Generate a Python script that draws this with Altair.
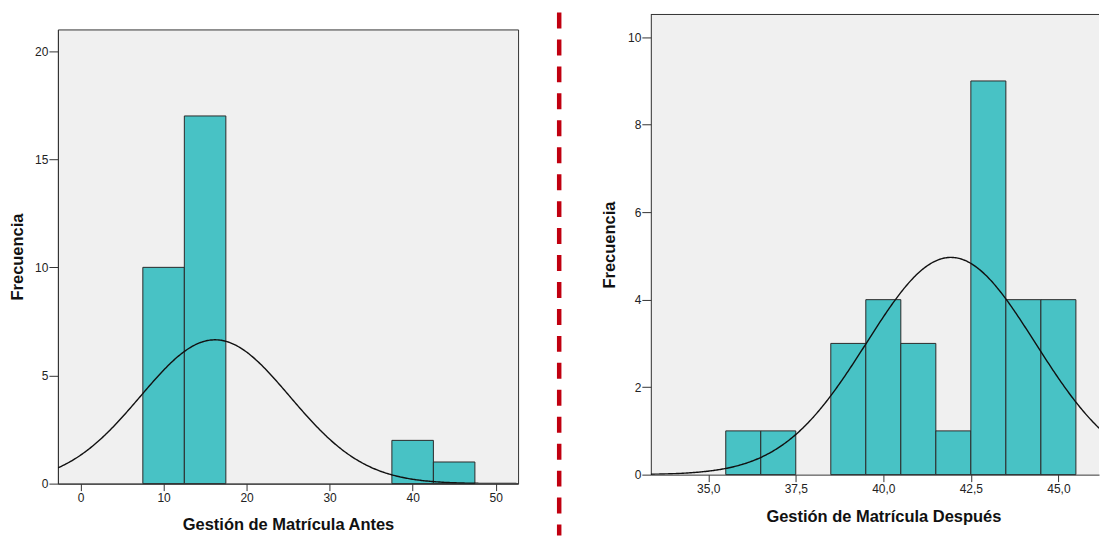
import altair as alt
import pandas as pd

# ---- Left histogram: Gestión de Matrícula Antes ----
antes_bin_start = [7.5, 12.5, 37.5, 42.5]
antes_bin_end = [12.5, 17.5, 42.5, 47.5]
antes_count = [10, 17, 2, 1]
antes_mean = 16.2
antes_sd = 9.0
antes_n = 30
antes_binwidth = 5
antes_xticks = [0, 10, 20, 30, 40, 50]
antes_yticks = [0, 5, 10, 15, 20]
antes_xdomain = [-2.73, 52.7]
antes_ydomain = [0, 21]

# ---- Right histogram: Gestión de Matrícula Después ----
despues_bin_start = [35.5, 36.5, 38.5, 39.5, 40.5, 41.5, 42.5, 43.5, 44.5]
despues_bin_end = [36.5, 37.5, 39.5, 40.5, 41.5, 42.5, 43.5, 44.5, 45.5]
despues_count = [1, 1, 3, 4, 3, 1, 9, 4, 4]
despues_mean = 41.93
despues_sd = 2.41
despues_n = 30
despues_binwidth = 1
despues_xticks = [35, 37.5, 40, 42.5, 45]
despues_yticks = [0, 2, 4, 6, 8, 10]
despues_xdomain = [33.36, 46.16]
despues_ydomain = [0, 10.52]

BAR_FILL = "#48C2C5"
BG = "#F0F0F0"
FRAME = "#333333"


def spacer(width, height):
    return alt.Chart(pd.DataFrame({"k": [0]})).mark_rule(
        color="white", strokeWidth=0.1, opacity=0).encode(
        x=alt.value(1), x2=alt.value(2), y=alt.value(height / 2)
    ).properties(width=width, height=height,
                 view=alt.ViewBackground(stroke=None, fill=None))


def histogram(starts, ends, counts, mean, sd, n, bw, xdom, ydom, xticks, yticks,
              xtitle, xlabel_expr, width, height, ytitle_x, xtitle_x, xtitle_y,
              full_frame):
    df = pd.DataFrame({"start": starts, "end": ends, "count": counts})
    xs = alt.Scale(domain=xdom, nice=False, zero=False)
    ys = alt.Scale(domain=ydom, nice=False, zero=False)
    xaxis = alt.Axis(values=xticks, title=xtitle, labelExpr=xlabel_expr,
                     tickSize=7, labelPadding=2, titleX=xtitle_x,
                     titleY=xtitle_y, titleBaseline="alphabetic", labelFlush=False)
    yaxis = alt.Axis(values=yticks, title="Frecuencia", tickSize=9, labelPadding=1,
                     titleAngle=-90, titleX=ytitle_x, titleY=height / 2,
                     titleBaseline="middle", titleAlign="center", labelFlush=False)
    bars = alt.Chart(df).mark_rect(fill=BAR_FILL, stroke="#2a2a2a", strokeWidth=1).encode(
        x=alt.X("start:Q", scale=xs, axis=xaxis),
        x2="end:Q",
        y=alt.Y("count:Q", scale=ys, axis=yaxis),
        y2=alt.datum(0),
    )
    expr = (f"{n * bw}*exp(-0.5*pow((datum.x-{mean})/{sd},2))/({sd}*sqrt(2*PI))")
    curve = alt.Chart(alt.sequence(start=xdom[0], stop=xdom[1] + 0.1,
                                   step=(xdom[1] - xdom[0]) / 400, as_="x")).transform_calculate(
        y=expr
    ).mark_line(color="#111111", strokeWidth=1.4, clip=True).encode(
        x=alt.X("x:Q", scale=xs, axis=xaxis),
        y=alt.Y("y:Q", scale=ys, axis=yaxis),
    )
    layers = [bars, curve]
    if full_frame:
        view = alt.ViewBackground(fill=BG, stroke=FRAME, strokeWidth=1)
    else:
        view = alt.ViewBackground(fill=BG, stroke=None)
        top = alt.Chart(pd.DataFrame({"k": [0]})).mark_rule(
            color=FRAME, strokeWidth=1).encode(
            x=alt.value(0), x2=alt.value(width), y=alt.value(0))
        layers.append(top)
    return alt.layer(*layers).properties(width=width, height=height, view=view)


LW, LH = 461, 455
RW, RH = 449, 461

left = histogram(antes_bin_start, antes_bin_end, antes_count, antes_mean, antes_sd,
                 antes_n, antes_binwidth, antes_xdomain, antes_ydomain, antes_xticks,
                 antes_yticks, "Gestión de Matrícula Antes", "format(datum.value, 'd')",
                 LW, LH, -40, LW / 2, 46, True)

right = histogram(despues_bin_start, despues_bin_end, despues_count, despues_mean,
                  despues_sd, despues_n, despues_binwidth, despues_xdomain,
                  despues_ydomain, despues_xticks, despues_yticks,
                  "Gestión de Matrícula Después",
                  "replace(format(datum.value, '.1f'), '.', ',')",
                  RW, RH, -41, 233, 47, False)

divider = alt.Chart(pd.DataFrame({"k": [0]})).mark_rule(
    color="#C00010", strokeWidth=4.5, strokeDash=[16, 11]).encode(
    x=alt.value(40.2), y=alt.value(4), y2=alt.value(528)
).properties(width=83, height=520,
             view=alt.ViewBackground(stroke=None, fill=None))

left_col = alt.vconcat(spacer(LW, 20), left, spacing=0)
right_col = alt.vconcat(spacer(RW, 5), right, spacing=0)

chart = alt.hconcat(left_col, divider, right_col, spacing=0).properties(
    padding={"left": 1, "top": 0, "right": 0, "bottom": 0}
).configure_axis(
    labelFont="Liberation Sans", labelFontSize=12, labelColor="#222222",
    titleFont="Liberation Sans", titleFontSize=16.5, titleFontWeight="bold",
    titleColor="#111111", domainColor=FRAME, tickColor=FRAME, grid=False,
)

chart.save("out.html", embed_options={"renderer": "svg", "actions": False})
